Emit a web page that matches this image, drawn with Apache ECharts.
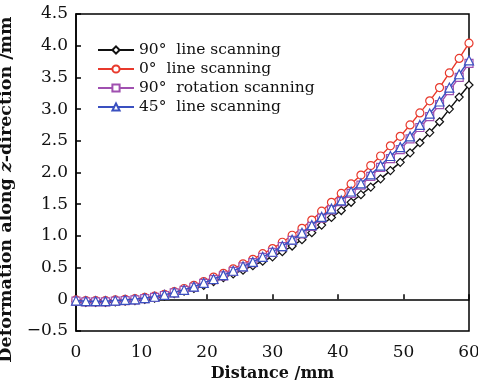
<!DOCTYPE html>
<html>
<head>
<meta charset="utf-8">
<script src="https://cdn.jsdelivr.net/npm/echarts@6/dist/echarts.min.js"></script>
<style>html,body{margin:0;padding:0;background:#fff}#c{width:478px;height:385px}</style>
</head>
<body>
<div id="c"></div>
<script>
var distance = [0,1.5,3,4.5,6,7.5,9,10.5,12,13.5,15,16.5,18,19.5,21,22.5,24,25.5,27,28.5,30,31.5,33,34.5,36,37.5,39,40.5,42,43.5,45,46.5,48,49.5,51,52.5,54,55.5,57,58.5,60];
var line90 = [-0.04,-0.05,-0.05,-0.05,-0.04,-0.03,-0.02,0.00,0.02,0.05,0.09,0.13,0.17,0.22,0.28,0.34,0.40,0.46,0.53,0.60,0.67,0.75,0.84,0.94,1.05,1.17,1.29,1.40,1.53,1.65,1.77,1.90,2.03,2.16,2.31,2.47,2.63,2.80,3.00,3.19,3.38];
var line0 = [-0.01,-0.02,-0.02,-0.02,-0.01,0.00,0.01,0.03,0.05,0.08,0.12,0.17,0.22,0.28,0.35,0.41,0.48,0.56,0.63,0.72,0.80,0.90,1.01,1.12,1.25,1.39,1.53,1.67,1.82,1.96,2.11,2.26,2.42,2.57,2.75,2.94,3.13,3.34,3.57,3.80,4.04];
var rot90 = [-0.03,-0.04,-0.04,-0.04,-0.03,-0.02,-0.01,0.01,0.03,0.06,0.10,0.14,0.19,0.25,0.31,0.37,0.44,0.51,0.58,0.66,0.74,0.83,0.93,1.03,1.15,1.28,1.41,1.54,1.67,1.80,1.94,2.08,2.22,2.36,2.53,2.71,2.88,3.07,3.29,3.50,3.72];
var line45 = [-0.02,-0.03,-0.03,-0.03,-0.02,-0.01,0.00,0.02,0.04,0.07,0.11,0.15,0.20,0.26,0.32,0.38,0.45,0.52,0.59,0.67,0.75,0.84,0.94,1.05,1.17,1.30,1.43,1.56,1.70,1.83,1.97,2.11,2.26,2.40,2.57,2.75,2.93,3.12,3.34,3.55,3.77];
var seriesNames = ['90°  line scanning','0°  line scanning','90°  rotation scanning','45°  line scanning'];
var seriesColors = ['#111111','#e8392c','#a050b0','#3a50c0'];
var seriesSymbols = ['diamond','circle','rect','triangle'];
var seriesData = [line90, line0, rot90, line45];

function pairs(ys){ return distance.map(function(x,i){ return [x, ys[i]]; }); }

var FONT = 'DejaVu Serif';
var chart = echarts.init(document.getElementById('c'));
chart.setOption({
  animation: false,
  backgroundColor: '#fff',
  grid: { left: 76, right: 9, top: 14, bottom: 54, show: true, borderColor: '#000', borderWidth: 1.5,
          containLabel: false, outerBoundsMode: 'none' },
  legend: {
    left: 92, top: 37, orient: 'vertical', itemGap: 3, itemWidth: 36, itemHeight: 9,
    textStyle: { fontFamily: FONT, fontSize: 15.5, color: '#111' },
    data: seriesNames
  },
  xAxis: {
    type: 'value', min: 0, max: 60, interval: 10,
    name: 'Distance /mm', nameLocation: 'middle', nameGap: 33,
    nameTextStyle: { fontFamily: FONT, fontSize: 16, fontWeight: 'bold', color: '#111' },
    axisLine: { show: true, lineStyle: { color: '#000', width: 1.5 } },
    axisTick: { show: true, inside: true, length: 5, lineStyle: { color: '#000', width: 1.5 } },
    axisLabel: { fontFamily: FONT, fontSize: 17, color: '#111', margin: 13 },
    splitLine: { show: false }
  },
  yAxis: {
    type: 'value', min: -0.5, max: 4.5, interval: 0.5,
    name: '{a|Deformation along }{i|z}{a|-direction /mm}', nameLocation: 'middle', nameGap: 52,
    nameTextStyle: { padding: [0, 34, 0, 0], rich: {
      a: { fontFamily: FONT, fontSize: 17.5, fontWeight: 'bold', color: '#111' },
      i: { fontFamily: FONT, fontSize: 17.5, fontWeight: 'bold', fontStyle: 'italic', color: '#111' }
    } },
    axisLine: { show: true, lineStyle: { color: '#000', width: 1.5 } },
    axisTick: { show: true, inside: true, length: 5, lineStyle: { color: '#000', width: 1.5 } },
    axisLabel: { fontFamily: FONT, fontSize: 17, color: '#111', margin: 8,
      formatter: function(v){ return v === 0 ? '0' : (v < 0 ? '\u2212' + Math.abs(v).toFixed(1) : v.toFixed(1)); } },
    splitLine: { show: false }
  },
  series: seriesNames.map(function(n, k){
    return {
      name: n, type: 'line', data: pairs(seriesData[k]),
      symbol: seriesSymbols[k],
      symbolSize: seriesSymbols[k] === 'triangle' ? 9 : 8,
      showAllSymbol: true,
      itemStyle: { color: '#fff', borderColor: seriesColors[k], borderWidth: 1.2 },
      lineStyle: { color: seriesColors[k], width: 1.4 },
      z: 2 + k
    };
  })
});
</script>
</body>
</html>
